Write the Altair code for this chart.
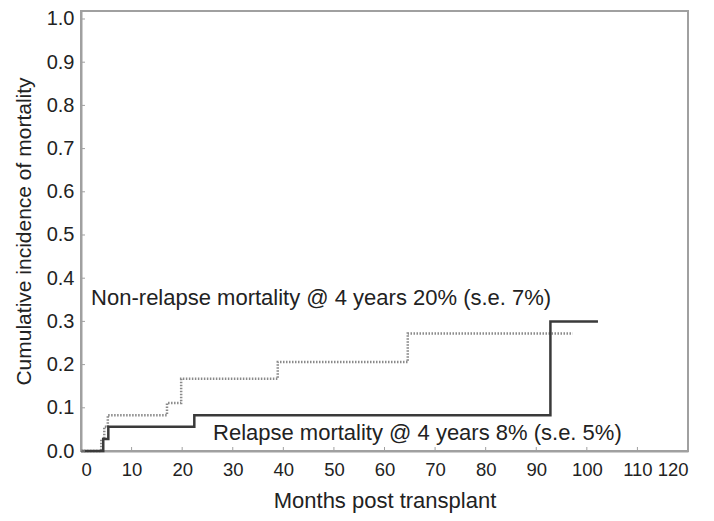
import altair as alt
import pandas as pd

# Relapse mortality (solid)
rel_t = [0, 4.4, 5.4, 22.4, 92.8, 102.2]
rel_y = [0, 0.028, 0.056, 0.083, 0.30, 0.30]
# Non-relapse mortality (dotted)
nrm_t = [0, 4.0, 4.6, 5.3, 17.0, 19.8, 38.9, 64.6, 97.2]
nrm_y = [0, 0.028, 0.056, 0.083, 0.111, 0.167, 0.206, 0.272, 0.272]

x_ticks = list(range(0, 121, 10))
y_ticks = [round(i / 10, 1) for i in range(11)]

labels = ["Non-relapse mortality @ 4 years 20% (s.e. 7%)",
          "Relapse mortality @ 4 years 8% (s.e. 5%)"]

rel = pd.DataFrame({"t": rel_t, "y": rel_y})
nrm = pd.DataFrame({"t": nrm_t, "y": nrm_y})

FONT = "Liberation Sans"
xs = alt.Scale(domain=[0, 120], nice=False)
ys = alt.Scale(domain=[0, 1.0185], nice=False)

xaxis = alt.Axis(values=x_ticks, title="Months post transplant", titleFontSize=22,
                 titleFontWeight="normal", labelFontSize=18.5, titlePadding=12,
                 labelPadding=9, tickSize=0, domainColor="#a0a0a0", domainWidth=2,
                 labelColor="#222", titleColor="#222", grid=False,
                 labelFont=FONT, titleFont=FONT)
yaxis = alt.Axis(values=y_ticks, format=".1f", title="Cumulative incidence of mortality",
                 titleFontSize=21, titleFontWeight="normal", labelFontSize=20,
                 titlePadding=12, labelPadding=7, tickSize=0, domainColor="#a0a0a0",
                 domainWidth=2, labelColor="#222", titleColor="#222", grid=False,
                 labelFont=FONT, titleFont=FONT)

nrm_line = alt.Chart(nrm).mark_line(interpolate="step-after", color="#8a8a8a",
                                    strokeWidth=2.5, strokeDash=[1.5, 1.5]).encode(
    x=alt.X("t:Q", scale=xs, axis=xaxis),
    y=alt.Y("y:Q", scale=ys, axis=yaxis),
)
rel_line = alt.Chart(rel).mark_line(interpolate="step-after", color="#3a3a3a",
                                    strokeWidth=2.5).encode(
    x=alt.X("t:Q", scale=xs),
    y=alt.Y("y:Q", scale=ys),
)

# inward ticks
xt = alt.Chart(pd.DataFrame({"v": x_ticks})).mark_rule(color="#a0a0a0", strokeWidth=1).encode(
    x=alt.X("v:Q", scale=xs), y=alt.value(440), y2=alt.value(436))
yt = alt.Chart(pd.DataFrame({"v": y_ticks})).mark_rule(color="#a0a0a0", strokeWidth=1).encode(
    y=alt.Y("v:Q", scale=ys), x=alt.value(0), x2=alt.value(4))

t1 = alt.Chart().mark_text(text=labels[0], align="left", baseline="middle",
                           fontSize=22, font=FONT, color="#222").encode(
    x=alt.datum(2.0, scale=xs), y=alt.datum(0.354, scale=ys))
t2 = alt.Chart().mark_text(text=labels[1], align="left", baseline="middle",
                           fontSize=22, font=FONT, color="#222").encode(
    x=alt.datum(26.1, scale=xs), y=alt.datum(0.042, scale=ys))

chart = alt.layer(nrm_line, rel_line, xt, yt, t1, t2).properties(
    width=607, height=440,
    autosize=alt.AutoSizeParams(type="none"),
    padding={"left": 73, "top": 3, "right": 18, "bottom": 62},
).configure_view(stroke="#a0a0a0", strokeWidth=2)

chart.save("out.html", embed_options={"renderer": "svg", "actions": False})
